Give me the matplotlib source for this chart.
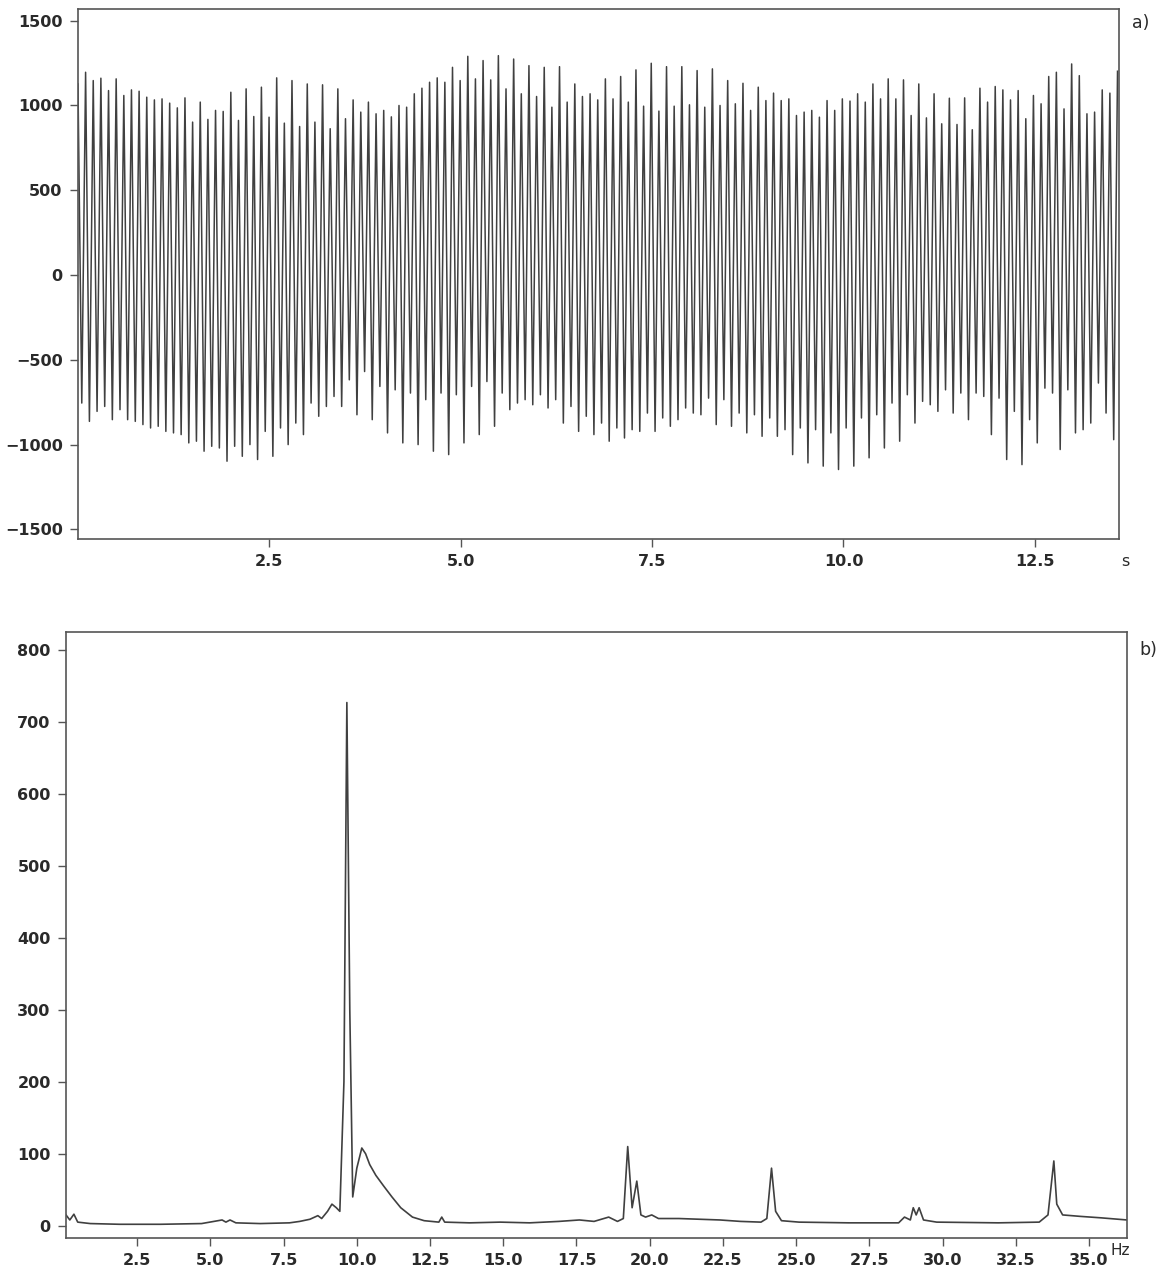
import numpy as np
import matplotlib
matplotlib.use("Agg")
import matplotlib.pyplot as plt

plt.rcParams["font.family"] = ["DejaVu Sans"]
plt.rcParams["font.weight"] = "bold"

# panel a: per-cycle maxima and minima of the time signal
CYCLE_S = 13.58 / 136
PEAKS = [
    1127, 1196, 1147, 1161, 1088, 1157, 1059, 1092, 1084, 1049, 1033, 1039, 1014, 986, 1045, 902,
    1020, 918, 971, 965, 1078, 912, 1098,
    935, 1108, 931, 1163, 896, 1147, 876, 1127, 902, 1122, 863, 1098, 922, 1033, 961, 1020, 951,
    971, 933, 1000, 990, 1069,
    1102, 1137, 1163, 1137, 1225, 1147, 1290, 1157, 1265, 1151, 1294, 1098, 1274, 1069, 1235, 1053,
    1225, 990, 1229, 1020, 1127, 1053,
    1069, 1033, 1157, 1039, 1171, 1020, 1210, 996, 1249, 967, 1229, 996, 1229, 1004, 1206, 990,
    1216, 1000, 1147, 1010, 1131, 971,
    1108, 1029, 1073, 1029, 1039, 941, 961, 971, 931, 1029, 971, 1039, 1026, 1069, 1020, 1127,
    1039, 1157, 1039, 1151, 941, 1127,
    927, 1069, 892, 1043, 888, 1045, 857, 1102, 1020, 1112, 1092, 1033, 1088, 922, 1059, 1010,
    1171, 1196, 980, 1245, 1176, 951, 961, 1092, 1073, 1202,
]
TROUGHS = [
    -755, -863, -804, -775, -853, -794, -853, -863, -882, -902, -892, -922, -931, -941, -990, -980,
    -1039, -1010, -1020, -1098, -1010, -1069,
    -1000, -1088, -922, -1069, -902, -1000, -873, -941, -755, -833, -775, -716, -775, -618, -824,
    -569, -853, -657, -931, -677, -990, -696,
    -1000, -735, -1039, -696, -1059, -706, -990, -657, -941, -628, -892, -696, -794, -755, -735,
    -765, -706, -784, -735, -873, -775, -922,
    -833, -941, -873, -980, -902, -961, -912, -922, -814, -922, -843, -892, -853, -784, -814, -824,
    -726, -882, -735, -892, -814, -931,
    -824, -951, -843, -951, -912, -1059, -902, -1108, -912, -1127, -931, -1147, -902, -1127, -843,
    -1078, -824, -1020, -755, -980, -706, -873,
    -745, -765, -804, -677, -814, -696, -853, -696, -716, -941, -726, -1088, -804, -1118, -853,
    -990, -667, -696, -1029, -677, -931, -912, -873, -637, -814, -971,
]

# panel b: amplitude spectrum (Hz, amplitude)
FREQ = [0.07, 0.2, 0.34, 0.47, 0.9, 1.9, 3.3, 4.7, 5.4, 5.53, 5.67, 5.87, 6.7, 7.7, 8.05, 8.4,
        8.67, 8.8, 9.0, 9.15, 9.3, 9.42, 9.56, 9.66, 9.76, 9.86, 10.0, 10.17, 10.3, 10.44, 10.65,
        10.92, 11.2, 11.5, 11.9, 12.3, 12.8, 12.9, 13.0, 13.85, 14.9, 15.9, 16.9, 17.6, 18.1,
        18.6, 18.9, 19.1, 19.25, 19.4, 19.56, 19.7, 19.86, 20.07, 20.3, 21.0, 21.7, 22.4, 23.1,
        23.8, 24.0, 24.16, 24.3, 24.5, 25.1, 26.8, 28.5, 28.7, 28.9, 29.0, 29.1, 29.2, 29.35,
        29.8, 31.9, 33.3, 33.6, 33.8, 33.9, 34.1, 34.7, 35.4, 36.3]
AMP = [15, 8, 16, 5, 3, 2, 2, 3, 8, 5, 8, 4, 3, 4, 6, 9,
       14, 10, 20, 30, 25, 20, 200, 727, 300, 40, 80, 108, 100, 85, 70,
       55, 40, 25, 12, 7, 5, 12, 5, 4, 5, 4, 6, 8, 6,
       12, 6, 10, 110, 25, 62, 15, 12, 15, 10, 10, 9, 8, 6,
       5, 10, 80, 20, 7, 5, 4, 4, 12, 8, 25, 15, 25, 8,
       5, 4, 5, 15, 90, 30, 15, 13, 11, 8]

LINE = "#404040"
SPINE = "#555555"
TXT = "#2a2a2a"
FS = 11.5


def style_axes(ax):
    for sp in ax.spines.values():
        sp.set_color(SPINE)
        sp.set_linewidth(1.2)
    ax.tick_params(direction="out", length=6, width=1.0, color=SPINE,
                   labelsize=FS, labelcolor=TXT, pad=5)
    ax.tick_params(top=False, right=False)


fig = plt.figure(figsize=(11.6, 12.81), dpi=100)
ax1 = fig.add_axes([0.0672, 0.5792, 0.8975, 0.4135])
ax2 = fig.add_axes([0.0569, 0.0336, 0.9147, 0.4730])

# panel a: zigzag through the maxima and minima
n = min(len(PEAKS), len(TROUGHS) + 1)
t_peak = np.arange(n) * CYCLE_S
t_trough = t_peak[:-1] + 0.5 * CYCLE_S
t = np.empty(2 * n - 1)
y = np.empty(2 * n - 1)
t[0::2] = t_peak
y[0::2] = PEAKS[:n]
t[1::2] = t_trough
y[1::2] = TROUGHS[:n - 1]
ax1.plot(t, y, color=LINE, lw=1.1)
ax1.set_xlim(0, 13.6)
ax1.set_ylim(-1557, 1567)
ax1.set_xticks([2.5, 5.0, 7.5, 10.0, 12.5])
ax1.set_xticklabels(["2.5", "5.0", "7.5", "10.0", "12.5"])
ax1.set_yticks([-1500, -1000, -500, 0, 500, 1000, 1500])
style_axes(ax1)
ax1.text(1.002, -0.042, "s", transform=ax1.transAxes, fontsize=FS, color=TXT,
         ha="left", va="center", fontweight="normal")
ax1.text(1.012, 0.975, "a)", transform=ax1.transAxes, fontsize=FS + 1, color=TXT,
         ha="left", va="center", fontweight="normal")

# panel b: spectrum
ax2.plot(FREQ, AMP, color=LINE, lw=1.2)
ax2.set_xlim(0.07, 36.3)
ax2.set_ylim(-17, 825)
xt = [2.5, 5.0, 7.5, 10.0, 12.5, 15.0, 17.5, 20.0, 22.5, 25.0, 27.5, 30.0, 32.5, 35.0]
ax2.set_xticks(xt)
ax2.set_xticklabels([f"{v:.1f}" for v in xt])
ax2.set_yticks(range(0, 801, 100))
style_axes(ax2)
ax2.text(0.9845, -0.021, "Hz", transform=ax2.transAxes, fontsize=FS - 0.5, color=TXT,
         ha="left", va="center", fontweight="normal")
ax2.text(1.012, 0.97, "b)", transform=ax2.transAxes, fontsize=FS + 1, color=TXT,
         ha="left", va="center", fontweight="normal")

fig.savefig("out.png", dpi=100, facecolor="white")
